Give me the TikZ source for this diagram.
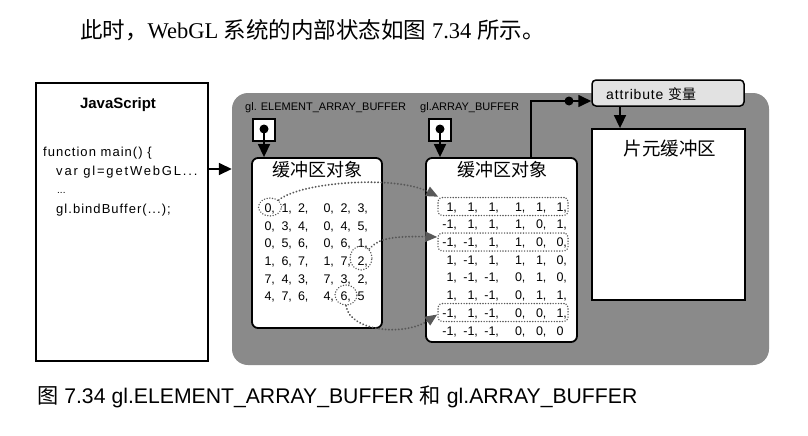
\documentclass[tikz,border=0pt]{standalone}
\usepackage{fontspec}
\setmainfont{Liberation Sans}
\newfontfamily\cjk{Noto Sans CJK SC}
\newfontfamily\serifrm{Liberation Serif}
\usetikzlibrary{arrows.meta,shapes.geometric}
\definecolor{bggray}{RGB}{138,138,138}
\definecolor{dotgray}{RGB}{88,88,88}
\definecolor{attrgray}{RGB}{226,226,226}
\newcommand\fsz[1]{\fontsize{#1}{#1}\selectfont}
\newcommand\codefont{\fsz{13}\addfontfeatures{LetterSpace=8}}
\newcommand\ent[2]{\ifnum#1<0 \llap{-}\number\numexpr-#1\relax\else#1\fi\rlap{#2}}
\begin{document}
\begin{tikzpicture}[x=1pt,y=-1pt,
  box/.style={draw=black,line width=1.8pt,fill=white,inner sep=0pt},
  sq/.style={draw=black,line width=1.3pt,fill=white,minimum size=22pt,inner sep=0pt},
  pin/.style={circle,fill=black,minimum size=9pt,inner sep=0pt},
  arr/.style={line width=1.6pt,-{Triangle[length=13pt,width=12pt]}},
  dotline/.style={draw=dotgray,line width=2pt,line cap=round,dash pattern=on 0.1pt off 3.2pt},
  dotarr/.style={dotline,-{Triangle[length=12pt,width=10pt,fill=dotgray]}},
  dotshape/.style={draw=dotgray,line width=1.5pt,line cap=round,dash pattern=on 0.1pt off 2.6pt,inner sep=0pt},
  num/.style={font=\fsz{12.5},anchor=base,inner sep=0pt},
  lbl/.style={font=\fsz{11},anchor=west,inner sep=0pt},
  code/.style={font=\codefont,anchor=base west,inner sep=0pt},
  ttl/.style={font=\fsz{18}\cjk,inner sep=0pt}
]
\useasboundingbox (0,0) rectangle (808,436);
\fill[white] (0,0) rectangle (808,436);

% intro line
\node[anchor=west,inner sep=0pt,font=\fsz{22.5}\serifrm] (intro) at (80,30)
  {{\cjk 此时，}WebGL {\cjk 系统的内部状态如图} 7.34 {\cjk 所示。}};

% gray WebGL area
\node[fill=bggray,rounded corners=16pt,minimum width=537pt,minimum height=272pt,inner sep=0pt] (gl) at (500.5,229) {};

% JavaScript box
\node[draw=black,line width=1.5pt,fill=white,minimum width=172pt,minimum height=278pt,inner sep=0pt] (js) at (122,222) {};
\node[font=\fsz{15}\bfseries,anchor=base,inner sep=0pt] (jst) at (118,108) {JavaScript};
\node[code] (c1) at (43,156) {function main() \{};
\node[code,font=\fsz{13}\addfontfeatures{LetterSpace=14}] (c2) at (56,175) {var gl=getWebGL...};
\node[code,font=\fsz{10}] (c3) at (57,193) {...};
\node[code] (c4) at (56,213) {gl.bindBuffer(...);};

% labels
\node[lbl] (l1) at (245,108) {gl. ELEMENT\_ARRAY\_BUFFER};
\node[lbl] (l2) at (420,108) {gl.ARRAY\_BUFFER};

% buffers
\node[box,rounded corners=6pt,minimum width=130pt,minimum height=170pt] (buf1) at (317,243) {};
\node[box,rounded corners=6pt,minimum width=151pt,minimum height=184pt] (buf2) at (501.5,250) {};
\node[box,minimum width=153pt,minimum height=171pt] (frag) at (668.5,214.5) {};
\node[draw=black,line width=1.5pt,fill=attrgray,rounded corners=4pt,minimum width=152pt,minimum height=26pt,inner sep=0pt] (attr) at (668,93) {};
\node[anchor=west,inner sep=0pt,font=\fsz{14}\addfontfeatures{LetterSpace=6}] (attrt) at (606,94) {attribute {\cjk 变量}};

\node[ttl] (t1) at (317,170) {缓冲区对象};
\node[ttl] (t2) at (502,170) {缓冲区对象};
\node[ttl,font=\fsz{18.5}\cjk] (t3) at (670,149) {片元缓冲区};

% binding points
\node[sq] (s1) at (264,130) {};
\node[sq] (s2) at (440,130) {};
\node[pin] (p1) at (264,129) {};
\node[pin] (p2) at (440,129) {};
\draw[arr] (p1.center) -- (p1 |- buf1.north);
\draw[arr] (p2.center) -- (p2 |- buf2.north);

% JS -> WebGL
\coordinate (jsy) at (0,169);
\draw[arr] (js.east |- jsy) -- (gl.west |- jsy);

% buffer -> attribute
\coordinate (bend) at (531,101);
\node[pin] (p3) at (569,101) {};
\draw[line width=1.6pt] (bend |- buf2.north) -- (bend) -- (p3.center);
\draw[arr] (p3.center) -- (attr.west |- bend);
\coordinate (ax) at (620,0);
\draw[arr] (attr.south -| ax) -- (frag.north -| ax);

% index numbers
\foreach \a/\b/\c/\d/\e/\f [count=\r] in {0/1/2/0/2/3, 0/3/4/0/4/5, 0/5/6/0/6/1, 1/6/7/1/7/2, 7/4/3/7/3/2, 4/7/6/4/6/5}{
  \pgfmathsetmacro\yy{212.6+17.6*(\r-1)}
  \ifnum\r=6 \def\cm{}\else\def\cm{,}\fi
  \node[num] (i-\r-1) at (268,\yy) {\ent{\a}{,}};
  \node[num] (i-\r-2) at (285,\yy) {\ent{\b}{,}};
  \node[num] (i-\r-3) at (301.5,\yy) {\ent{\c}{,}};
  \node[num] (i-\r-4) at (327,\yy) {\ent{\d}{,}};
  \node[num] (i-\r-5) at (344,\yy) {\ent{\e}{,}};
  \node[num] (i-\r-6) at (361,\yy) {\ent{\f}{\cm}};
}
% vertex numbers
\foreach \a/\b/\c/\d/\e/\f [count=\r] in {1/1/1/1/1/1, -1/1/1/1/0/1, -1/-1/1/1/0/0, 1/-1/1/1/1/0, 1/-1/-1/0/1/0, 1/1/-1/0/1/1, -1/1/-1/0/0/1, -1/-1/-1/0/0/0}{
  \pgfmathsetmacro\yy{211.1+17.7*(\r-1)}
  \ifnum\r=8 \def\cm{}\else\def\cm{,}\fi
  \node[num] (v-\r-1) at (450,\yy) {\ent{\a}{,}};
  \node[num] (v-\r-2) at (471,\yy) {\ent{\b}{,}};
  \node[num] (v-\r-3) at (492,\yy) {\ent{\c}{,}};
  \node[num] (v-\r-4) at (518.5,\yy) {\ent{\d}{,}};
  \node[num] (v-\r-5) at (539.5,\yy) {\ent{\e}{,}};
  \node[num] (v-\r-6) at (560,\yy) {\ent{\f}{\cm}};
}

% dotted highlights
\node[dotshape,ellipse,minimum width=23pt,minimum height=18pt] (e0) at (270,207) {};
\node[dotshape,ellipse,minimum width=22pt,minimum height=24pt] (e2) at (361,258) {};
\node[dotshape,ellipse,minimum width=22pt,minimum height=20pt] (e6) at (346,295) {};
\node[dotshape,rounded corners=4pt,minimum width=130pt,minimum height=18pt] (r1) at (503,206.5) {};
\node[dotshape,rounded corners=4pt,minimum width=130pt,minimum height=18pt] (r3) at (503,242) {};
\node[dotshape,rounded corners=4pt,minimum width=130pt,minimum height=18pt] (r7) at (503,312.5) {};

\draw[dotarr] (e0.north east) .. controls (300,182) and (395,175) .. ([xshift=1pt]r1.north west);
\draw[dotarr] (e2.north east) .. controls (378,238) and (395,236) .. ([yshift=5pt]r3.west);
\draw[dotarr] (e6.south) .. controls (350,332) and (405,336) .. ([yshift=-2pt]r7.west);

% caption
\node[anchor=west,inner sep=0pt,font=\fsz{21.2}] (cap) at (37,397)
  {{\cjk 图} 7.34\hspace{6pt}gl.ELEMENT\_ARRAY\_BUFFER {\cjk 和} gl.ARRAY\_BUFFER};
\end{tikzpicture}
\end{document}
